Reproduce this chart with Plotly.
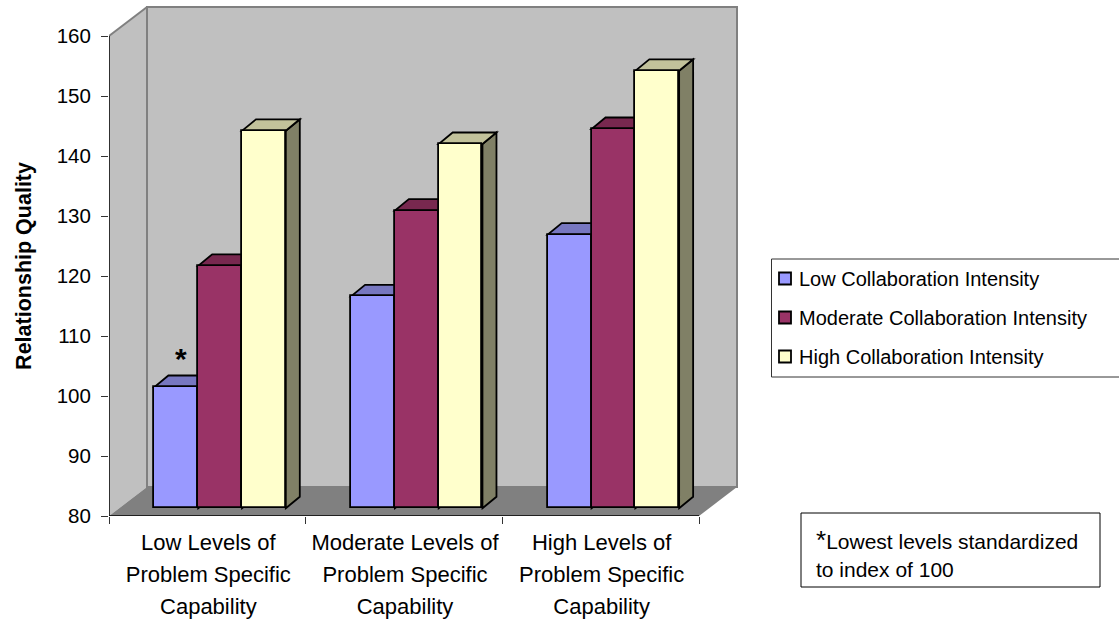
import plotly.graph_objects as go

# ---- data ----
categories = ["Low Levels of<br>Problem Specific<br>Capability",
              "Moderate Levels of<br>Problem Specific<br>Capability",
              "High Levels of<br>Problem Specific<br>Capability"]
low_values = [100.2, 115.3, 125.6]
moderate_values = [120.4, 129.6, 143.2]
high_values = [142.9, 140.7, 152.9]
series_names = ["Low Collaboration Intensity", "Moderate Collaboration Intensity", "High Collaboration Intensity"]
y_ticks = [80, 90, 100, 110, 120, 130, 140, 150, 160]

# ---- styles / geometry ----
FRONT = ["#9999FF", "#993366", "#FFFFCC"]
TOP = ["#7777C0", "#78284F", "#C2C29B"]
SIDE = ["#5C5C99", "#5C1F3D", "#808066"]
WALL, FLOOR, EDGE = "#C0C0C0", "#808080", "#808080"
W, H = 1119, 626
L, R, T, B = 109, 379, 4, 110          # plot-area margins
PX_X = 590 / 3                         # pixels per category
PX_Y = 6.0                             # pixels per value unit
DEPTH_X, DEPTH_Y = 38 / PX_X, 29 / PX_Y  # depth of the floor
BAR_DX, BAR_DY = 14 / PX_X, 11.5 / PX_Y  # depth of a bar
BAR_W = 43.8 / PX_X
GROUP_X0 = 45.4 / PX_X
BASE_DY = 7.8 / PX_Y
BAR_LW = 1.8
Y0 = 80
x_max = (W - L - R) / PX_X
y_max = Y0 + (H - T - B) / PX_Y
plot_w, plot_h = W - L - R, H - T - B


def poly(pts, fill, line=None, lw=BAR_LW):
    path = "M" + " L".join(f"{x},{y}" for x, y in pts) + " Z"
    return dict(type="path", path=path, xref="x", yref="y", layer="below", fillcolor=fill,
                line=dict(color=line or fill, width=lw if line else 0))


shapes = []
n = len(categories)
top_y = y_ticks[-1]
shapes.append(poly([(0, Y0), (DEPTH_X, Y0 + DEPTH_Y), (DEPTH_X, top_y + DEPTH_Y), (0, top_y)], WALL))
shapes.append(poly([(DEPTH_X, Y0 + DEPTH_Y), (n + DEPTH_X, Y0 + DEPTH_Y), (n + DEPTH_X, top_y + DEPTH_Y),
                    (DEPTH_X, top_y + DEPTH_Y)], WALL, EDGE, 2))
shapes.append(poly([(0, Y0), (n, Y0), (n + DEPTH_X, Y0 + DEPTH_Y), (DEPTH_X, Y0 + DEPTH_Y)], FLOOR))
shapes.append(dict(type="line", xref="x", yref="y", layer="below", x0=0, y0=top_y, x1=DEPTH_X,
                   y1=top_y + DEPTH_Y, line=dict(color=EDGE, width=2)))

fig = go.Figure()
all_series = [low_values, moderate_values, high_values]
for s, vals in enumerate(all_series):
    xs, bases, heights = [], [], []
    for c, v in enumerate(vals):
        x0 = c + GROUP_X0 + s * BAR_W
        x1 = x0 + BAR_W
        b = Y0 + BASE_DY
        t = b + (v - Y0)
        xs.append(x0 + BAR_W / 2)
        bases.append(b)
        heights.append(v - Y0)
        shapes.append(poly([(x1, b), (x1 + BAR_DX, b + BAR_DY), (x1 + BAR_DX, t + BAR_DY), (x1, t)],
                           SIDE[s], "#000000"))
        shapes.append(poly([(x0, t), (x1, t), (x1 + BAR_DX, t + BAR_DY), (x0 + BAR_DX, t + BAR_DY)],
                           TOP[s], "#000000"))
    fig.add_trace(go.Bar(x=xs, y=heights, base=bases, width=BAR_W, name=series_names[s],
                         legendgroup=series_names[s],
                         marker=dict(color=FRONT[s], line=dict(color="#000000", width=BAR_LW))))

fig.add_trace(go.Scatter(x=[0, 0, n], y=[top_y, Y0, Y0], mode="lines", showlegend=False, cliponaxis=False,
                         hoverinfo="skip", line=dict(color="#000000", width=1.5)))

FONT = "Liberation Sans, Arial, sans-serif"
CAT_SPAN = '<span style="font-size:22px">'
ticktext = [CAT_SPAN + c.replace("<br>", "</span><br>" + CAT_SPAN) + "</span>" for c in categories]
NOTE_SPAN = '<span style="font-size:21px">'
fig.update_layout(
    width=W, height=H, autosize=False, plot_bgcolor="white", paper_bgcolor="white", bargap=0,
    barmode="overlay",
    margin=dict(l=L, r=R, t=T, b=B, autoexpand=False), shapes=shapes,
    font=dict(family=FONT, color="#000000"),
    showlegend=True,
    legend=dict(x=(759 - L) / plot_w, y=1 - (259 - T) / plot_h, xanchor="left", yanchor="top",
                traceorder="grouped", tracegroupgap=10, font=dict(size=20, family=FONT),
                bgcolor="rgba(0,0,0,0)", borderwidth=0),
    xaxis=dict(range=[0, x_max], showgrid=False, zeroline=False, showline=False,
               tickvals=[0.505, 1.505, 2.505], ticktext=ticktext, ticks="", tickangle=0, ticklabelstandoff=8,
               tickfont=dict(size=24.6, family=FONT),
               minor=dict(tickvals=[0, 1, 2, 3], ticks="outside", ticklen=7, tickcolor="#333333",
                          tickwidth=1, showgrid=False)),
    yaxis=dict(range=[Y0, y_max], showgrid=False, zeroline=False, showline=False, tickvals=y_ticks,
               ticks="outside", ticklen=7, tickcolor="#333333", tickwidth=1, ticklabelstandoff=6,
               tickfont=dict(size=20.5, family=FONT),
               title=dict(text="<b>Relationship Quality&#160;&#160;</b>", font=dict(size=21.5, family=FONT), standoff=19)),
    annotations=[
        dict(text="<b>*</b>", x=GROUP_X0 + BAR_W / 2, y=low_values[0] + BAR_DY + 1, xref="x", yref="y", yanchor="bottom",
             xshift=5, showarrow=False, font=dict(size=30, family=FONT, color="#000000")),
        dict(text='<span style="font-size:26px">*</span>' + NOTE_SPAN + 'Lowest levels standardized</span><br>'
                  + NOTE_SPAN + 'to index of 100</span>',
             xref="paper", yref="paper", x=(814 - L) / plot_w, y=1 - (553 - T) / plot_h, xanchor="left",
             yanchor="middle", align="left", showarrow=False, font=dict(size=21.5, family=FONT, color="#000000")),
    ],
)
fig.add_shape(type="rect", xref="paper", yref="paper", layer="above", x0=(771.5 - L) / plot_w,
              x1=(1140 - L) / plot_w, y0=1 - (377 - T) / plot_h, y1=1 - (259 - T) / plot_h,
              line=dict(color="#333333", width=1))
fig.add_shape(type="rect", xref="paper", yref="paper", layer="above", x0=(801 - L) / plot_w,
              x1=(1100 - L) / plot_w, y0=1 - (587 - T) / plot_h, y1=1 - (513 - T) / plot_h,
              line=dict(color="#000000", width=1))
fig.write_html(
    "out.html",
    config={"displayModeBar": False},
    post_script="document.body.style.margin='0';document.documentElement.style.overflow='hidden';"
                "document.querySelectorAll('.legendsymbols').forEach(function(e){e.setAttribute('transform','translate(6,0)');});",
)
